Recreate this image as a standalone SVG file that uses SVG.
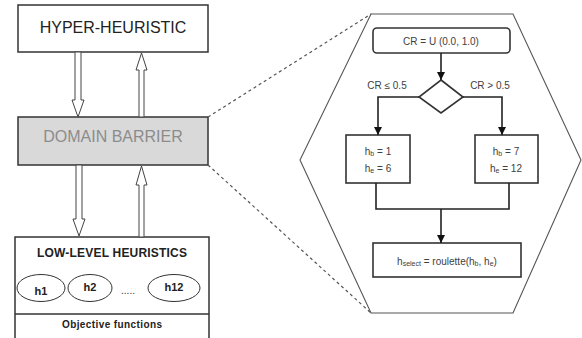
<svg xmlns="http://www.w3.org/2000/svg" width="582" height="338" viewBox="0 0 582 338">
<style>
text{font-family:"Liberation Sans","Open Sans",Arial,sans-serif;text-anchor:middle;dominant-baseline:central}
.box{fill:#fff;stroke:#333;stroke-width:1.5}
.harrow{fill:#fff;stroke:#444;stroke-width:1}
.fc{fill:#fff;stroke:#333;stroke-width:1.6}
.fl{fill:none;stroke:#222;stroke-width:1.6}
.ft{font-size:10px;fill:#404040}
.dash{stroke:#555;stroke-width:1.2;stroke-dasharray:3,3;fill:none}
</style>
<defs>
<marker id="ah" viewBox="0 0 10 10" refX="10" refY="5" markerWidth="5" markerHeight="5" orient="auto" markerUnits="strokeWidth">
<path d="M0,0 L10,5 L0,10 z" fill="#111"/>
</marker>
</defs>

<g id="hyper-heuristic">
<rect class="box" x="18" y="5" width="190" height="47"/>
<text x="113" y="27" font-size="16" fill="#222">HYPER-HEURISTIC</text>
</g>

<g id="domain-barrier">
<rect x="18" y="117" width="190" height="48" fill="#d9d9d9" stroke="#333" stroke-width="1.5"/>
<text x="113" y="136" font-size="16" fill="#8c8c8c">DOMAIN BARRIER</text>
</g>

<g id="low-level-heuristics">
<rect class="box" x="15" y="237" width="194" height="110"/>
<text x="112" y="253" font-size="12" font-weight="bold" fill="#222" textLength="150">LOW-LEVEL HEURISTICS</text>
<ellipse cx="41" cy="288" rx="24" ry="13.5" fill="#fff" stroke="#333" stroke-width="1"/>
<text x="41" y="291" font-size="11" font-weight="bold" fill="#222">h1</text>
<ellipse cx="90" cy="288" rx="22" ry="13.5" fill="#fff" stroke="#333" stroke-width="1"/>
<text x="90" y="287" font-size="11" font-weight="bold" fill="#222">h2</text>
<text x="128" y="290" font-size="10" fill="#333">.....</text>
<ellipse cx="174" cy="288" rx="26" ry="13.5" fill="#fff" stroke="#333" stroke-width="1"/>
<text x="174" y="287" font-size="11" font-weight="bold" fill="#222">h12</text>
<line x1="15" y1="314" x2="209" y2="314" stroke="#333" stroke-width="1.3"/>
<text x="112" y="324" font-size="10" font-weight="bold" fill="#222" textLength="100">Objective functions</text>
</g>

<g id="zoom-hexagon">
<polygon points="371,14 513,14 581,160 513,313 371,313 300,160" fill="#fff" stroke="#555" stroke-width="1.1"/>
</g>

<g id="cr-node">
<rect class="fc" x="373" y="28" width="137" height="25" rx="4"/>
<text class="ft" x="441" y="41">CR = U (0.0, 1.0)</text>
</g>

<g id="decision">
<polygon class="fc" points="441,80 463,97 441,113 419,97"/>
</g>

<g id="left-node">
<rect class="fc" x="346" y="135" width="64" height="48"/>
<text class="ft" x="378" y="151">h<tspan font-size="7" dy="2">b</tspan><tspan dy="-2"> = 1</tspan></text>
<text class="ft" x="378" y="168">h<tspan font-size="7" dy="2">e</tspan><tspan dy="-2"> = 6</tspan></text>
</g>

<g id="right-node">
<rect class="fc" x="475" y="135" width="63" height="48"/>
<text class="ft" x="506" y="151">h<tspan font-size="7" dy="2">b</tspan><tspan dy="-2"> = 7</tspan></text>
<text class="ft" x="506" y="168">h<tspan font-size="7" dy="2">e</tspan><tspan dy="-2"> = 12</tspan></text>
</g>

<g id="select-node">
<rect class="fc" x="373" y="243" width="148" height="34"/>
<text class="ft" x="447" y="261" font-size="11">h<tspan font-size="7" dy="2">select</tspan><tspan dy="-2"> = roulette(h</tspan><tspan font-size="7" dy="2">b</tspan><tspan dy="-2">, h</tspan><tspan font-size="7" dy="2">e</tspan><tspan dy="-2">)</tspan></text>
</g>

<g id="connectors">
<polygon class="harrow" points="75,52 81,52 81,100 84,100 78,117 72,100 75,100"/>
<polygon class="harrow" points="139,117 144,117 144,70 147,70 141.5,53 136,70 139,70"/>
<polygon class="harrow" points="76,165 82,165 82,219 85,219 79,236 73,219 76,219"/>
<polygon class="harrow" points="139,237 144,237 144,185 147,185 141.5,166 136,185 139,185"/>
<line class="dash" x1="208" y1="117" x2="371" y2="14"/>
<line class="dash" x1="208" y1="165" x2="371" y2="313"/>
<line class="fl" x1="441" y1="53" x2="441" y2="80" marker-end="url(#ah)"/>
<polyline class="fl" points="419,97 378,97 378,135" marker-end="url(#ah)"/>
<polyline class="fl" points="463,97 502,97 502,135" marker-end="url(#ah)"/>
<polyline class="fl" points="376,183 376,209 509,209 509,183" stroke-width="2"/>
<line class="fl" x1="441" y1="209" x2="441" y2="243" marker-end="url(#ah)"/>
<text class="ft" x="387" y="85">CR ≤ 0.5</text>
<text class="ft" x="490" y="85">CR &gt; 0.5</text>
</g>
</svg>
